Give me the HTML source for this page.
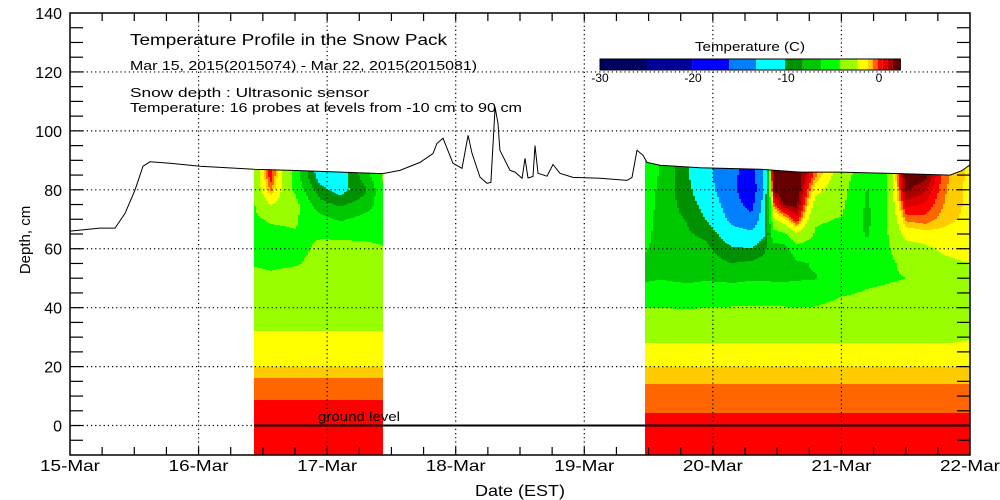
<!DOCTYPE html>
<html><head><meta charset="utf-8"><style>
html,body{margin:0;padding:0;background:#fff;}
svg{display:block;font-family:"Liberation Sans",sans-serif;}
</style></head><body>
<svg id="chart" width="1000" height="500" viewBox="0 0 1000 500">
<g id="field"></g>
<g id="grid"></g>
<g id="snow"></g>
<g id="axes"></g>
<g id="legend"></g>
<text x="130" y="45" font-size="16" textLength="317" lengthAdjust="spacingAndGlyphs">Temperature Profile in the Snow Pack</text>
<text x="130" y="70" font-size="13" textLength="347" lengthAdjust="spacingAndGlyphs">Mar 15, 2015(2015074) - Mar 22, 2015(2015081)</text>
<text x="130" y="97" font-size="13" textLength="239" lengthAdjust="spacingAndGlyphs">Snow depth : Ultrasonic sensor</text>
<text x="130" y="112" font-size="13" textLength="392" lengthAdjust="spacingAndGlyphs">Temperature: 16 probes at levels from -10 cm to 90 cm</text>
<text x="475" y="496" font-size="16" textLength="90" lengthAdjust="spacingAndGlyphs">Date (EST)</text>
<text x="30" y="240" font-size="15" text-anchor="middle" transform="rotate(-90 30 240)">Depth, cm</text>
</svg>
<script>
// ---- data ----
const dayLabels = ["15-Mar","16-Mar","17-Mar","18-Mar","19-Mar","20-Mar","21-Mar","22-Mar"];
const yTicks = [0,20,40,60,80,100,120,140];
const legendTicks = [-30,-20,-10,0];
const levels = [-25,-20.1,-16.1,-13.2,-10.1,-8.2,-6.2,-4.2,-2.3,-1.2,-0.68,-0.14,0.4,0.9,1.5];
const levelColors = ['#000060','#000098','#0000ff','#0080ff','#00ffff','#009000','#00c800','#00ff00','#99ff00','#ffff00','#ffcc00','#ff6600','#ff0000','#dd0000','#aa0000','#660000'];
const snowT = [0,0.117,0.233,0.35,0.428,0.506,0.568,0.622,0.778,1.011,1.431,1.789,2.434,2.567,2.722,2.823,2.854,2.901,2.979,3.049,3.096,3.127,3.189,3.243,3.274,3.306,3.329,3.344,3.422,3.461,3.516,3.539,3.562,3.601,3.617,3.640,3.710,3.757,3.811,3.912,4.122,4.332,4.371,4.410,4.457,4.488,4.589,4.900,5.367,5.678,5.989,6.456,6.845,6.938,7.0];
const snowD = [66,66.5,67,67,72,80,88,89.5,89,88,87,86.5,85.5,86.6,89.3,92.3,95.7,97.5,89,87.3,98.5,92.4,84.3,82.2,82.5,108,102.5,93.4,86.6,86,83.9,90.7,84,84.5,95,85.6,84.6,88.6,85.6,84.2,83.9,83.2,84.2,93.4,91.7,89.3,88.3,87.5,87,86,86,85.5,85,86.5,88.5];
const segStart = [1.431,4.472];
const segEnd = [2.434,7.0];
const depths = [-10,0,5,10,15,20,25,30,35,40,50,55,60,65,70,75,80,85,90];
const leftTimes = [1.431,1.56,1.75,1.95,2.1,2.3,2.434];
const leftTemps = [
 [0.3,0.15,0,-0.2,-0.55,-1.2,-1.6,-2.1,-2.6,-3.0,-3.8,-4.3,-4.6,-4.6,-4.5,-4.3,-3.8,-3.5,-3.5],
 [0.3,0.15,0,-0.2,-0.55,-1.2,-1.6,-2.1,-2.6,-3.0,-4.0,-4.4,-4.6,-4.6,-4.0,-2.2,-0.5,0.3,0.5],
 [0.3,0.15,0,-0.2,-0.55,-1.2,-1.6,-2.1,-2.6,-3.0,-3.8,-4.3,-4.5,-4.3,-4.0,-3.5,-4.5,-5,-5],
 [0.3,0.15,0,-0.2,-0.55,-1.2,-1.6,-2.1,-2.6,-3.0,-3.8,-3.9,-4.0,-4.3,-5.5,-7.5,-9.5,-11.5,-12],
 [0.3,0.15,0,-0.2,-0.55,-1.2,-1.6,-2.1,-2.6,-3.0,-3.8,-3.9,-3.9,-4.4,-6.5,-8.5,-11,-11.5,-11],
 [0.3,0.15,0,-0.2,-0.55,-1.2,-1.6,-2.1,-2.6,-3.0,-3.8,-3.9,-4.0,-4.4,-5.5,-7.2,-8.5,-7,-6],
 [0.3,0.15,0,-0.2,-0.55,-1.2,-1.6,-2.1,-2.6,-3.0,-3.8,-4.0,-4.1,-4.5,-5,-5,-4.5,-4,-4]
];
const rightTimes = [4.472,4.6,4.8,4.95,5.15,5.3,5.4,5.47,5.55,5.65,5.8,6.0,6.2,6.35,6.5,6.65,6.8,7.0];
const rightTemps = [
 [0.3,0.25,-0.2,-0.45,-0.72,-1.2,-1.9,-2.6,-3.4,-4.2,-6.5,-6.6,-6.0,-5.5,-5.2,-5,-5,-5,-5],
 [0.3,0.25,-0.2,-0.45,-0.72,-1.2,-1.9,-2.6,-3.4,-4.2,-6.3,-6.8,-7,-7.2,-7.3,-7.0,-6.8,-6.5,-6.5],
 [0.3,0.25,-0.2,-0.45,-0.72,-1.2,-1.9,-2.6,-3.5,-4.3,-6.6,-7,-7.5,-8,-8.3,-9,-9.5,-9.8,-9.8],
 [0.3,0.25,-0.2,-0.45,-0.72,-1.2,-1.9,-2.6,-3.4,-4.2,-6.4,-7.2,-7.8,-8.6,-10.2,-11,-12,-12.5,-12.5],
 [0.3,0.25,-0.2,-0.45,-0.72,-1.2,-1.9,-2.6,-3.3,-4.1,-6.6,-8.2,-9.8,-12,-14,-15,-15.5,-15.5,-15],
 [0.3,0.25,-0.2,-0.45,-0.72,-1.2,-1.9,-2.6,-3.3,-4.1,-6.4,-7.8,-10,-12.5,-15.5,-17,-18,-17.5,-17],
 [0.3,0.25,-0.2,-0.45,-0.72,-1.2,-1.9,-2.6,-3.3,-4.1,-6.4,-7.5,-8.5,-10.5,-11.5,-12,-13,-13,-13],
 [0.3,0.25,-0.2,-0.45,-0.72,-1.2,-1.9,-2.6,-3.3,-4.1,-6.5,-7.5,-7,-5,-2.5,-0.5,1.7,2.2,2.2],
 [0.3,0.25,-0.2,-0.45,-0.72,-1.2,-1.9,-2.6,-3.3,-4.1,-6.5,-8,-7,-4.5,-1.5,1.6,2.2,2.3,2.3],
 [0.3,0.25,-0.2,-0.45,-0.72,-1.2,-1.9,-2.6,-3.3,-4.2,-6.4,-6.5,-5,-2.5,0.5,1.8,2.3,2.3,2.3],
 [0.3,0.25,-0.2,-0.45,-0.72,-1.2,-1.9,-2.6,-3.2,-4.1,-6.3,-6,-5,-4.4,-4,-3.0,-1.8,-0.5,-0.3],
 [0.3,0.25,-0.2,-0.45,-0.72,-1.2,-1.9,-2.6,-3.0,-3.6,-5.2,-5.5,-5.2,-4.6,-4.3,-3.8,-3.5,-3.3,-3.3],
 [0.3,0.25,-0.2,-0.45,-0.72,-1.2,-1.9,-2.6,-3.0,-3.5,-4.6,-5.2,-5.8,-6.4,-6.6,-6.5,-6.3,-5.5,-5],
 [0.3,0.25,-0.2,-0.45,-0.72,-1.2,-1.9,-2.6,-3.0,-3.4,-4.4,-4.6,-4.5,-4.4,-4.4,-4.3,-4.3,-4.3,-4.3],
 [0.3,0.25,-0.2,-0.45,-0.72,-1.2,-1.9,-2.6,-2.8,-3.2,-4.2,-3.8,-3,-1.8,-0.5,0.6,1.6,2.2,2.2],
 [0.3,0.25,-0.2,-0.45,-0.72,-1.2,-1.9,-2.6,-2.7,-3.0,-3.8,-3.2,-2.6,-1.5,-0.3,0.3,1.0,1.8,1.8],
 [0.3,0.25,-0.2,-0.45,-0.72,-1.2,-1.9,-2.6,-2.5,-2.8,-3.3,-2.7,-2.0,-1.4,-1.0,-0.7,-0.6,-0.5,-0.5],
 [0.3,0.25,-0.2,-0.45,-0.72,-1.2,-1.9,-2.4,-2.4,-2.5,-2.45,-2.3,-1.6,-1.5,-1.4,-1.4,-1.4,-1.4,-1.4]
];
// ---- scales ----
const X0=70,X1=970,Y0=13,Y1=455,DMIN=-10,DMAX=140;
const xOf=t=>X0+t*(X1-X0)/7;
const tOf=x=>(x-X0)*7/(X1-X0);
const yOf=d=>Y1-(d-DMIN)*(Y1-Y0)/(DMAX-DMIN);
const dOf=y=>DMIN+(Y1-y)*(DMAX-DMIN)/(Y1-Y0);
const NS='http://www.w3.org/2000/svg';
function mk(tag,attrs,parent){const e=document.createElementNS(NS,tag);for(const k in attrs)e.setAttribute(k,attrs[k]);parent.appendChild(e);return e;}
function interp(xs,ys,x){if(x<=xs[0])return ys[0];for(let i=1;i<xs.length;i++){if(x<=xs[i]){const f=(x-xs[i-1])/(xs[i]-xs[i-1]);return ys[i-1]+f*(ys[i]-ys[i-1]);}}return ys[ys.length-1];}
function colorOf(T){let i=0;while(i<levels.length&&T>=levels[i])i++;return levelColors[i];}
function tempAt(times,temps,t,d){
  let i=0;while(i<times.length-2&&t>times[i+1])i++;
  let f=(t-times[i])/(times[i+1]-times[i]);f=Math.max(0,Math.min(1,f));
  const a=interp(depths,temps[i],d),b=interp(depths,temps[i+1],d);return a+f*(b-a);
}
// ---- field ----
const field=document.getElementById('field');
const segs=[[leftTimes,leftTemps],[rightTimes,rightTemps]];
segs.forEach((s,si)=>{
  const xa=Math.round(xOf(segStart[si])),xb=Math.round(xOf(segEnd[si]));
  for(let x=xa;x<xb;x+=2){
    const w=Math.min(2,xb-x);const t=tOf(x+1);
    const top=Math.round(yOf(interp(snowT,snowD,t)));
    let runStart=top,runCol=null;
    for(let y=top;y<=Y1;y++){
      const c=y<Y1?colorOf(tempAt(s[0],s[1],t,dOf(y+0.5))):null;
      if(c!==runCol){
        if(runCol){const r=mk('rect',{x:x,y:runStart,width:w,height:y-runStart,fill:runCol},field);
          
          }
        runCol=c;runStart=y;
      }
    }
  }
});
// ---- grid ----
const grid=document.getElementById('grid');
for(let i=1;i<7;i++){const l=mk('line',{x1:xOf(i),x2:xOf(i),y1:Y0,y2:Y1,stroke:'#000','stroke-width':1.2,'stroke-dasharray':'1.2,3'},grid);
  }
yTicks.slice(0,-1).forEach(v=>{const l=mk('line',{x1:X0,x2:X1,y1:yOf(v),y2:yOf(v),stroke:'#000','stroke-width':1.2,'stroke-dasharray':'1.2,3'},grid);
  });
const g=mk('line',{x1:xOf(segStart[0]),x2:X1,y1:yOf(0),y2:yOf(0),stroke:'#000','stroke-width':2},grid);

const gt=mk('text',{x:318,y:421,'font-size':13,textLength:82,lengthAdjust:'spacingAndGlyphs'},grid);gt.textContent='ground level';

// ---- snow line ----
const snow=document.getElementById('snow');
const pts=snowT.map((t,i)=>xOf(t).toFixed(1)+','+yOf(snowD[i]).toFixed(1)).join(' ');
const pl=mk('polyline',{points:pts,fill:'none',stroke:'#000','stroke-width':1},snow);

// ---- axes ----
const axes=document.getElementById('axes');
const fr=mk('rect',{x:X0,y:Y0,width:X1-X0,height:Y1-Y0,fill:'none',stroke:'#000','stroke-width':1.5},axes);

for(let d=-5;d<140;d+=5){const y=yOf(d);
  mk('line',{x1:X0,x2:X0+13,y1:y,y2:y,stroke:'#000','stroke-width':1.2},axes);
  mk('line',{x1:X1-13,x2:X1,y1:y,y2:y,stroke:'#000','stroke-width':1.2},axes);}
for(let q=1;q<28;q++){const x=xOf(q/4);
  mk('line',{x1:x,x2:x,y1:Y1,y2:Y1-8,stroke:'#000','stroke-width':1.2},axes);
  mk('line',{x1:x,x2:x,y1:Y0,y2:Y0+8,stroke:'#000','stroke-width':1.2},axes);}
yTicks.forEach(v=>{const t=mk('text',{x:62,y:yOf(v)+6,'font-size':16,'text-anchor':'end'},axes);t.textContent=v;
  });
dayLabels.forEach((s,i)=>{const t=mk('text',{x:xOf(i),y:471,'font-size':16,'text-anchor':'middle',textLength:60,lengthAdjust:'spacingAndGlyphs'},axes);t.textContent=s;
  });
// ---- legend ----
const lg=document.getElementById('legend');
const lx=T=>600+(T+30)*9.3;
const bounds=[-30].concat(levels,[2.3]);
levelColors.forEach((c,i)=>{const r=mk('rect',{x:lx(bounds[i]),y:59,width:lx(bounds[i+1])-lx(bounds[i]),height:11,fill:c},lg);
  });
mk('rect',{x:lx(-30),y:59,width:lx(2.3)-lx(-30),height:11,fill:'none',stroke:'#000','stroke-width':1},lg);
const lt=mk('text',{x:695,y:51,'font-size':13,textLength:110,lengthAdjust:'spacingAndGlyphs'},lg);lt.textContent='Temperature (C)';

legendTicks.forEach(v=>{const t=mk('text',{x:lx(v),y:82,'font-size':12,'text-anchor':'middle'},lg);t.textContent=v;
  });
</script>
</body></html>
